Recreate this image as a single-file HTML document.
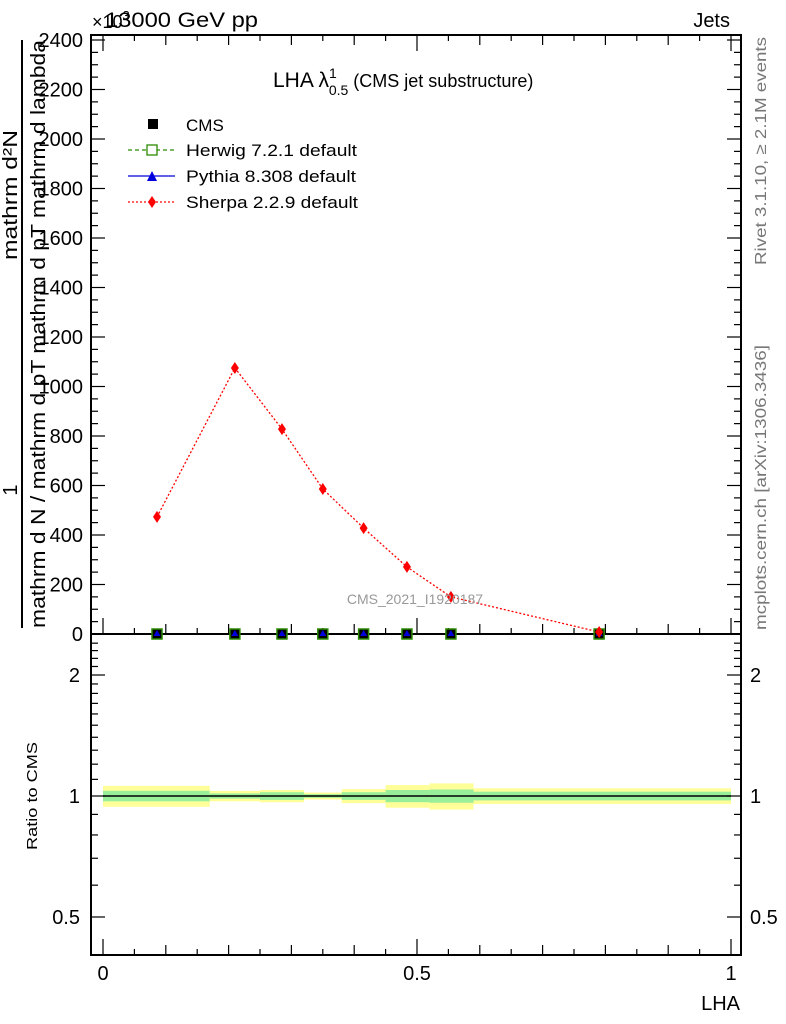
<!DOCTYPE html>
<html><head><meta charset="utf-8"><style>
html,body{margin:0;padding:0;background:#fff;}
svg{display:block;font-family:"Liberation Sans",sans-serif;}
</style></head><body>
<svg id="chart" width="786" height="1024" viewBox="0 0 786 1024"></svg>
<script>
const binEdges=[0,0.17,0.25,0.32,0.38,0.45,0.52,0.59,1.0];
const yellowErr=[0.06,0.03,0.035,0.02,0.04,0.065,0.075,0.045];
const greenErr=[0.03,0.015,0.022,0.01,0.022,0.035,0.038,0.025];
const pointX=[0.086,0.21,0.285,0.35,0.415,0.484,0.554,0.79];
const sherpaY=[473,1075,828,586,428,271,150,8];
const cmsY=[0,0,0,0,0,0,0,0];
const mainTicks=[0,200,400,600,800,1000,1200,1400,1600,1800,2000,2200,2400];
const mainTickLabels=["0","200","400","600","800","1000","1200","1400","1600","1800","2000","2200","2400"];
const ratioTicks=[0.5,1,2];
const ratioTickLabels=["0.5","1","2"];
const xTicks=[0,0.5,1];
const xTickLabels=["0","0.5","1"];

const NS="http://www.w3.org/2000/svg";
const svg=document.getElementById('chart');
const L=91,R=741,T=35,MB=634,RB=955;
const xs=v=>103+v*628;
const ys=v=>634-v*0.2475;
const rs=v=>796-121*Math.log2(v);
function mk(tag,attrs,parent){const e=document.createElementNS(NS,tag);for(const k in attrs)e.setAttribute(k,attrs[k]);(parent||svg).appendChild(e);return e;}
function txt(s,attrs){const e=mk('text',attrs);e.textContent=s;return e;}

for(let i=0;i<binEdges.length-1;i++){
  const x0=xs(binEdges[i]),x1=xs(binEdges[i+1]);
  const y=mk('rect',{x:x0,y:rs(1+yellowErr[i]),width:x1-x0,height:rs(1-yellowErr[i])-rs(1+yellowErr[i]),fill:'#ffff99'});
  
  
  const g=mk('rect',{x:x0,y:rs(1+greenErr[i]),width:x1-x0,height:rs(1-greenErr[i])-rs(1+greenErr[i]),fill:'#99ee99'});
  
  
}
const one=mk('line',{x1:xs(0),x2:xs(1),y1:rs(1),y2:rs(1),stroke:'#000','stroke-width':1.5});



const f1=mk('rect',{x:L,y:T,width:R-L,height:MB-T,fill:'none',stroke:'#000','stroke-width':2});


const f2=mk('rect',{x:L,y:MB,width:R-L,height:RB-MB,fill:'none',stroke:'#000','stroke-width':2});



for(let v=0;v<=2400;v+=50){
  const len=(v%200===0)?14:7;
  mk('line',{x1:L,x2:L+len,y1:ys(v),y2:ys(v),stroke:'#000','stroke-width':1.2});
  mk('line',{x1:R,x2:R-len,y1:ys(v),y2:ys(v),stroke:'#000','stroke-width':1.2});
}
mainTicks.forEach((v,i)=>{
  const t=txt(mainTickLabels[i],{x:83,y:ys(v)+7,'font-size':20,'text-anchor':'end'});
  
  
});
for(let k=0;k<=20;k++){
  const v=k*0.05;const len=(k%10===0)?16:(k%2===0)?10:6;
  [MB,RB].forEach(b=>{mk('line',{x1:xs(v),x2:xs(v),y1:b,y2:b-len,stroke:'#000','stroke-width':1.2});});
  mk('line',{x1:xs(v),x2:xs(v),y1:T,y2:T+len,stroke:'#000','stroke-width':1.2});
}
xTicks.forEach((v,i)=>{
  const t=txt(xTickLabels[i],{x:xs(v),y:980,'font-size':20,'text-anchor':'middle'});
  
  
});
const rminor=[0.5,0.6,0.7,0.8,0.9,1,1.1,1.2,1.3,1.4,1.5,1.6,1.7,1.8,1.9,2,2.1,2.2,2.3,2.4];
rminor.forEach(v=>{
  const len=ratioTicks.includes(v)?14:7;
  mk('line',{x1:L,x2:L+len,y1:rs(v),y2:rs(v),stroke:'#000','stroke-width':1.2});
  mk('line',{x1:R,x2:R-len,y1:rs(v),y2:rs(v),stroke:'#000','stroke-width':1.2});
});
ratioTicks.forEach((v,i)=>{
  const a=txt(ratioTickLabels[i],{x:80,y:rs(v)+7,'font-size':20,'text-anchor':'end'});
  
  
  const b=txt(ratioTickLabels[i],{x:750,y:rs(v)+7,'font-size':20});
  
  
});

const pl=mk('polyline',{points:pointX.map((x,i)=>xs(x)+','+ys(sherpaY[i])).join(' '),fill:'none',stroke:'#ff0000','stroke-width':1.3,'stroke-dasharray':'2,2'});


pointX.forEach((x,i)=>{
  const s=mk('rect',{x:xs(x)-5,y:ys(cmsY[i])-5,width:10,height:10,fill:'#000',stroke:'#2a8a00','stroke-width':1.5});
  
  
  const p=mk('polygon',{points:`${xs(x)-3.5},${ys(cmsY[i])+2} ${xs(x)+3.5},${ys(cmsY[i])+2} ${xs(x)},${ys(cmsY[i])-4}`,fill:'#0000dd'});
  
  
});
pointX.forEach((x,i)=>{
  const cx=xs(x),cy=ys(sherpaY[i]);
  const d=mk('polygon',{points:`${cx},${cy-6} ${cx+4},${cy} ${cx},${cy+6} ${cx-4},${cy}`,fill:'#ff0000'});
  
  
});
</script>
<svg width="786" height="1024" style="position:absolute;left:0;top:0;font-family:'Liberation Sans',sans-serif">
<text x="105" y="27" font-size="21" textLength="153" lengthAdjust="spacingAndGlyphs">13000 GeV pp</text>
<text x="92" y="28" font-size="18">×10<tspan dy="-8" font-size="13">3</tspan></text>
<text x="730" y="27" font-size="20" text-anchor="end">Jets</text>
<text x="273" y="87" font-size="21">LHA λ<tspan dy="-9" font-size="14">1</tspan><tspan dx="-8" dy="17" font-size="14">0.5</tspan><tspan dy="-8" font-size="18"> (CMS jet substructure)</tspan></text>
<g>
<rect x="148" y="119" width="10" height="10" fill="#000"/>
<text x="186" y="131" font-size="17">CMS</text>
<line x1="128" x2="175" y1="150" y2="150" stroke="#2a8a00" stroke-width="1.3" stroke-dasharray="4,3"/>
<rect x="147" y="145" width="10" height="10" fill="#fff" stroke="#2a8a00" stroke-width="1.3"/>
<text x="186" y="156" font-size="17" textLength="171" lengthAdjust="spacingAndGlyphs">Herwig 7.2.1 default</text>
<line x1="128" x2="175" y1="176" y2="176" stroke="#0000dd" stroke-width="1.3"/>
<polygon points="147,181 157,181 152,171" fill="#0000dd"/>
<text x="186" y="182" font-size="17" textLength="170" lengthAdjust="spacingAndGlyphs">Pythia 8.308 default</text>
<line x1="128" x2="175" y1="202" y2="202" stroke="#ff0000" stroke-width="1.3" stroke-dasharray="2,2"/>
<polygon points="152,196 156,202 152,208 148,202" fill="#ff0000"/>
<text x="186" y="208" font-size="17" textLength="172" lengthAdjust="spacingAndGlyphs">Sherpa 2.2.9 default</text>
</g>
<text x="415" y="604" font-size="14" fill="#999" text-anchor="middle">CMS_2021_I1920187</text>
<text transform="translate(766,265) rotate(-90)" font-size="16" fill="#777" textLength="228" lengthAdjust="spacingAndGlyphs">Rivet 3.1.10, ≥ 2.1M events</text>
<text transform="translate(766,630) rotate(-90)" font-size="16" fill="#777" textLength="285" lengthAdjust="spacingAndGlyphs">mcplots.cern.ch [arXiv:1306.3436]</text>
<text x="740" y="1010" font-size="20" text-anchor="end">LHA</text>
<text transform="translate(37,850) rotate(-90)" font-size="15" textLength="108" lengthAdjust="spacingAndGlyphs">Ratio to CMS</text>
<g>
<line x1="22" x2="22" y1="40" y2="628" stroke="#000" stroke-width="2"/>
<text transform="translate(17,490) rotate(-90)" font-size="20" text-anchor="middle">1</text>
<text transform="translate(17,260) rotate(-90)" font-size="20" textLength="130" lengthAdjust="spacingAndGlyphs">mathrm d²N</text>
<text transform="translate(45,628) rotate(-90)" font-size="20" textLength="588" lengthAdjust="spacingAndGlyphs">mathrm d N / mathrm d pT mathrm d pT mathrm d lambda</text>
</g>
</svg>
</body></html>
